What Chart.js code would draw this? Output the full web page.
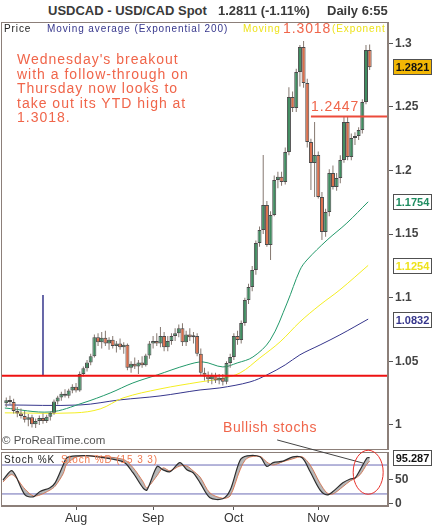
<!DOCTYPE html>
<html>
<head>
<meta charset="utf-8">
<script src="https://cdn.jsdelivr.net/npm/chart.js@4.4.0/dist/chart.umd.min.js"></script>
<style>
  body { margin: 0; width: 434px; height: 530px; background: #fff; position: relative; overflow: hidden;
         font-family: "Liberation Sans", Arial, sans-serif; }
  canvas { position: absolute; left: 0; }
  #priceChart { top: 22px; }
  #stochChart { top: 430px; }
  .txt { position: absolute; white-space: nowrap; z-index: 2; }
  .title { top: 3px; font-size: 13px; font-weight: bold; color: #3a3a3a; }
  .hdr { font-size: 10px; letter-spacing: 0.9px; }
  .note { color: #f0654a; font-size: 14px; letter-spacing: 1px; line-height: 14.5px; }
</style>
</head>
<body>
<canvas id="priceChart" width="434" height="428"></canvas>
<canvas id="stochChart" width="434" height="100"></canvas>

<div class="txt title" style="left:48px">USDCAD - USD/CAD Spot</div>
<div class="txt title" style="left:218px">1.2811 (-1.11%)</div>
<div class="txt title" style="left:327px">Daily 6:55</div>

<div class="txt hdr" style="left:4px;top:23px;color:#222">Price</div>
<div class="txt hdr" style="left:47px;top:23px;color:#36368c">Moving average (Exponential 200)</div>
<div class="txt hdr" style="left:243px;top:23px;color:#eee21a">Moving</div>
<div class="txt hdr" style="left:332px;top:23px;color:#eee21a">(Exponent</div>
<div class="txt note" style="left:283px;top:21px;letter-spacing:0.9px">1.3018</div>

<div class="txt note" style="left:17px;top:52px">Wednesday's breakout<br>with a follow-through on<br>Thursday now looks to<br>take out its YTD high at<br>1.3018.</div>
<div class="txt note" style="left:311px;top:99px;letter-spacing:0.9px">1.2447</div>
<div class="txt note" style="left:223px;top:420px;letter-spacing:0.6px">Bullish stochs</div>
<div class="txt" style="left:2px;top:434px;font-size:11.5px;color:#555">© ProRealTime.com</div>

<div class="txt hdr" style="left:4px;top:454px;color:#222">Stoch %K</div>
<div class="txt hdr" style="left:61px;top:454px;color:#f07a50">Stoch %D (15 3 3)</div>

<script>
// daily candles, 7 Jul .. 21 Nov (index 0..99)
const open = [1.0170, 1.0195, 1.0180, 1.0110, 1.0090, 1.0070, 1.0040, 1.0060, 1.0005, 1.0030,
              1.0055, 1.0030, 1.0065, 1.0095, 1.0185, 1.0215, 1.0245, 1.0230, 1.0270, 1.0300,
              1.0270, 1.0400, 1.0445, 1.0490, 1.0540, 1.0690, 1.0650, 1.0685, 1.0640, 1.0670,
              1.0620, 1.0640, 1.0610, 1.0630, 1.0450, 1.0480, 1.0460, 1.0490, 1.0470, 1.0545,
              1.0640, 1.0660, 1.0640, 1.0700, 1.0610, 1.0660, 1.0700, 1.0720, 1.0760, 1.0650,
              1.0710, 1.0690, 1.0700, 1.0560, 1.0410, 1.0380, 1.0360, 1.0390, 1.0350, 1.0370,
              1.0340, 1.0486, 1.0533, 1.0700, 1.0667, 1.0801, 1.0982, 1.1084, 1.1218, 1.1430,
              1.1532, 1.1729, 1.1415, 1.1651, 1.1925, 1.1950, 1.1910, 1.2145, 1.2578, 1.2491,
              1.2774, 1.2970, 1.2688, 1.2224, 1.2059, 1.2122, 1.1792, 1.1517, 1.1674, 1.1980,
              1.1870, 1.1940, 1.2083, 1.2381, 1.2106, 1.2255, 1.2270, 1.2318, 1.2539, 1.2947];
const high = [1.0215, 1.0230, 1.0205, 1.0140, 1.0130, 1.0110, 1.0085, 1.0080, 1.0050, 1.0075,
              1.0090, 1.0080, 1.0105, 1.0200, 1.0230, 1.0260, 1.0280, 1.0285, 1.0320, 1.0330,
              1.0420, 1.0460, 1.0510, 1.0560, 1.0710, 1.0720, 1.0730, 1.0740, 1.0690, 1.0700,
              1.0660, 1.0680, 1.0650, 1.0640, 1.0500, 1.0530, 1.0510, 1.0540, 1.0560, 1.0660,
              1.0700, 1.0720, 1.0770, 1.0730, 1.0700, 1.0720, 1.0760, 1.0790, 1.0800, 1.0740,
              1.0760, 1.0730, 1.0720, 1.0600, 1.0450, 1.0420, 1.0410, 1.0410, 1.0400, 1.0400,
              1.0500, 1.0560, 1.0720, 1.0740, 1.0820, 1.1000, 1.1110, 1.1250, 1.1450, 1.1560,
              1.2122, 1.1760, 1.1680, 1.1960, 1.1990, 1.1990, 1.2180, 1.2655, 1.2620, 1.2800,
              1.2987, 1.3018, 1.2720, 1.2250, 1.2381, 1.2150, 1.1830, 1.1700, 1.2010, 1.2040,
              1.1980, 1.2120, 1.2420, 1.2420, 1.2290, 1.2300, 1.2340, 1.2560, 1.2987, 1.2990];
const low  = [1.0140, 1.0160, 1.0090, 1.0060, 1.0050, 1.0020, 0.9990, 0.9980, 0.9975, 1.0000,
              1.0010, 1.0015, 1.0035, 1.0080, 1.0160, 1.0190, 1.0215, 1.0210, 1.0250, 1.0255,
              1.0260, 1.0380, 1.0420, 1.0470, 1.0530, 1.0620, 1.0600, 1.0620, 1.0590, 1.0600,
              1.0570, 1.0590, 1.0560, 1.0430, 1.0410, 1.0440, 1.0400, 1.0450, 1.0460, 1.0520,
              1.0600, 1.0620, 1.0610, 1.0580, 1.0580, 1.0630, 1.0660, 1.0690, 1.0620, 1.0620,
              1.0660, 1.0640, 1.0540, 1.0390, 1.0350, 1.0330, 1.0320, 1.0330, 1.0320, 1.0310,
              1.0320, 1.0450, 1.0510, 1.0630, 1.0640, 1.0780, 1.0950, 1.1050, 1.1180, 1.1400,
              1.1500, 1.1400, 1.1296, 1.1640, 1.1860, 1.1880, 1.1890, 1.2120, 1.2460, 1.2460,
              1.2660, 1.2650, 1.2180, 1.1847, 1.1792, 1.1780, 1.1454, 1.1480, 1.1640, 1.1850,
              1.1840, 1.1900, 1.2060, 1.2080, 1.2080, 1.2200, 1.2240, 1.2290, 1.2520, 1.2790];
const close = [1.0195, 1.0180, 1.0110, 1.0090, 1.0070, 1.0040, 1.0060, 1.0005, 1.0030, 1.0055,
               1.0030, 1.0065, 1.0095, 1.0185, 1.0215, 1.0245, 1.0230, 1.0270, 1.0300, 1.0270,
               1.0400, 1.0445, 1.0490, 1.0540, 1.0690, 1.0650, 1.0685, 1.0640, 1.0670, 1.0620,
               1.0640, 1.0610, 1.0630, 1.0450, 1.0480, 1.0460, 1.0490, 1.0470, 1.0545, 1.0640,
               1.0660, 1.0640, 1.0700, 1.0610, 1.0660, 1.0700, 1.0720, 1.0760, 1.0650, 1.0710,
               1.0690, 1.0700, 1.0560, 1.0410, 1.0380, 1.0360, 1.0390, 1.0350, 1.0370, 1.0340,
               1.0486, 1.0533, 1.0700, 1.0667, 1.0801, 1.0982, 1.1084, 1.1218, 1.1430, 1.1532,
               1.1729, 1.1415, 1.1651, 1.1925, 1.1950, 1.1910, 1.2145, 1.2578, 1.2491, 1.2774,
               1.2970, 1.2688, 1.2224, 1.2059, 1.2122, 1.1792, 1.1517, 1.1674, 1.1980, 1.1870,
               1.1940, 1.2083, 1.2381, 1.2106, 1.2255, 1.2270, 1.2318, 1.2539, 1.2947, 1.2811];

// moving averages, read at a few candle positions
const ema20Idx = [-0.4, 11.9, 20.9, 28.3, 34.5, 41.1, 49.2, 53.6, 59.0, 62.9, 67.2, 71.9, 76.5, 80.0, 81.9, 87.4, 92.8, 98.6];
const ema20    = [1.0133, 1.0102, 1.0173, 1.0251, 1.0330, 1.0393, 1.0471, 1.0495, 1.0456, 1.0487, 1.0534, 1.0667, 1.0958, 1.1217, 1.1296, 1.1453, 1.1587, 1.1754];
const ema50Idx = [-0.4, 18.7, 25.6, 31.8, 41.9, 52.8, 58.2, 63.7, 69.1, 74.6, 80.0, 85.5, 90.9, 98.6];
const ema50    = [1.0095, 1.0095, 1.0126, 1.0212, 1.0283, 1.0338, 1.0362, 1.0409, 1.0527, 1.0653, 1.0810, 1.0944, 1.1062, 1.1254];
const ema200Idx = [-0.4, 20.1, 31.0, 41.9, 52.8, 58.2, 66.4, 71.0, 76.0, 80.0, 85.5, 90.9, 98.6];
const ema200    = [1.0157, 1.0157, 1.0197, 1.0228, 1.0275, 1.0291, 1.0338, 1.0393, 1.0472, 1.0551, 1.0629, 1.0708, 1.0832];

const supportLevel = 1.0386;
const breakoutLevel = 1.2425;
const markerIdx = 10;
const markerTop = 1.1021;
const lastValues = [1.2821, 1.1754, 1.1254, 1.0832];

// stochastic (15 3 3)
const stochX = [-0.9, 1.6, 5.1, 7.3, 9.2, 11.9, 13.3, 15.5, 16.5, 19.3, 22.8, 31.8, 34.5, 37.3, 38.3, 41.1,
                42.7, 44.6, 47.3, 49.2, 50.9, 52.8, 55.5, 59.0, 61.0, 63.7, 65.6, 69.1, 71.0, 72.7, 75.4,
                78.1, 80.6, 82.8, 85.5, 87.4, 89.0, 91.7, 93.7, 95.0, 96.4, 98.3, 99.0];
const stochK = [49, 68, 18, 14, 25, 33, 43, 80, 95, 99, 99, 87, 64, 32, 28, 77,
                70, 66, 85, 70, 64, 43, 12, 10, 28, 90, 99, 97, 77, 85, 88,
                97, 95, 66, 28, 18, 25, 43, 51, 53, 70, 95, 95.287];
const stochD = [45, 60, 30, 16, 18, 28, 36, 62, 82, 97, 99, 92, 75, 45, 33, 58,
                74, 68, 78, 78, 68, 55, 22, 11, 16, 70, 94, 98, 86, 80, 87,
                93, 97, 80, 42, 22, 20, 35, 47, 52, 60, 82, 88];
const stochLevels = [80, 20];

const monthIdx = [19, 40, 62, 85];
const monthLabels = ['Aug', 'Sep', 'Oct', 'Nov'];
const priceTicks = [1, 1.05, 1.1, 1.15, 1.2, 1.25, 1.3];
const priceTickLabels = ['1', '1.05', '1.1', '1.15', '1.2', '1.25', '1.3'];
const stochTicks = [0, 50];
const stochTickLabels = ['0', '50'];

const xMin = -1.44, xMax = 104;
const frameColor = '#8c7f79';
const axisFont = { family: '"Liberation Sans", Arial', size: 12, weight: 'bold' };

const idx = close.map((_, i) => i);
const pts = (xs, ys) => xs.map((x, i) => ({ x: x, y: ys[i] }));

// keep the plot area exactly where the panel frame is
function fitAxis(size) {
    return s => {
        if (s.isHorizontal()) s.height = size; else s.width = size;
        s.paddingTop = 0; s.paddingBottom = 0; s.paddingLeft = 0; s.paddingRight = 0;
    };
}

function valueBox(ctx, area, yPix, text, bg, fg) {
    const x = area.right + 5, w = 39, h = 15;
    const top = Math.round(yPix - h / 2) + 0.5;
    ctx.fillStyle = bg;
    ctx.fillRect(x, top, w, h);
    ctx.strokeStyle = '#505050';
    ctx.lineWidth = 1;
    ctx.strokeRect(x + 0.5, top, w - 1, h);
    ctx.fillStyle = fg;
    ctx.font = 'bold 11px "Liberation Sans", Arial';
    ctx.textAlign = 'center';
    ctx.textBaseline = 'middle';
    ctx.fillText(text, x + w / 2, top + h / 2 + 0.5);
}

const priceDecor = {
    id: 'priceDecor',
    afterDraw(chart) {
        const { ctx, chartArea: a, scales } = chart;
        ctx.save();
        ctx.strokeStyle = frameColor;
        ctx.lineWidth = 1;
        ctx.strokeRect(a.left + 0.5, a.top + 0.5, a.right - a.left - 1, a.bottom - a.top - 1);
        const y = scales.y;
        valueBox(ctx, a, y.getPixelForValue(lastValues[0]), lastValues[0].toFixed(4), '#f2b705', '#111');
        valueBox(ctx, a, y.getPixelForValue(lastValues[1]), lastValues[1].toFixed(4), '#fff', '#1e8c60');
        valueBox(ctx, a, y.getPixelForValue(lastValues[2]), lastValues[2].toFixed(4), '#fff', '#eee21a');
        valueBox(ctx, a, y.getPixelForValue(lastValues[3]), lastValues[3].toFixed(4), '#fff', '#36368c');
        ctx.restore();
    }
};

new Chart(document.getElementById('priceChart'), {
    type: 'bar',
    data: {
        datasets: [
            { type: 'line', data: pts([xMin, xMax], [supportLevel, supportLevel]), borderColor: '#ee1111', borderWidth: 2, pointRadius: 0 },
            { type: 'line', data: pts([83, xMax], [breakoutLevel, breakoutLevel]), borderColor: '#ec4b3b', borderWidth: 2, pointRadius: 0 },
            { type: 'line', data: pts([markerIdx, markerIdx], [supportLevel, markerTop]), borderColor: '#36368c', borderWidth: 1.5, pointRadius: 0 },
            {
                data: idx.map(i => ({ x: i, y: [Math.min(open[i], close[i]), Math.max(open[i], close[i])] })),
                backgroundColor: idx.map(i => close[i] >= open[i] ? '#3f8c60' : '#dc6e4b'),
                borderColor: '#4a4a4a', borderWidth: 1, borderSkipped: false,
                barThickness: 4, grouped: false, minBarLength: 2, inflateAmount: 0
            },
            {
                data: idx.map(i => ({ x: i, y: [low[i], high[i]] })),
                backgroundColor: '#857870', barThickness: 1, grouped: false, inflateAmount: 0
            },
            { type: 'line', data: pts(ema20Idx, ema20), borderColor: '#22996a', borderWidth: 1, pointRadius: 0, tension: 0.35 },
            { type: 'line', data: pts(ema50Idx, ema50), borderColor: '#f4ee22', borderWidth: 1, pointRadius: 0, tension: 0.35 },
            { type: 'line', data: pts(ema200Idx, ema200), borderColor: '#36368c', borderWidth: 1, pointRadius: 0, tension: 0.35 }
        ]
    },
    options: {
        responsive: false,
        animation: false,
        layout: { padding: { left: 1, top: 0, right: 0, bottom: 0 } },
        plugins: { legend: { display: false }, tooltip: { enabled: false } },
        scales: {
            x: { type: 'linear', min: xMin, max: xMax, display: false, offset: false },
            y: {
                position: 'right', min: 0.9803, max: 1.3167,
                afterBuildTicks: s => { s.ticks = priceTicks.map(v => ({ value: v })); },
                afterFit: fitAxis(46),
                ticks: { callback: (v, i) => priceTickLabels[i], font: axisFont, color: '#444', padding: 2 },
                grid: { drawOnChartArea: false, tickLength: 5, tickColor: '#555' },
                border: { color: frameColor }
            }
        }
    },
    plugins: [priceDecor]
});

const stochDecor = {
    id: 'stochDecor',
    afterDraw(chart) {
        const { ctx, chartArea: a, scales } = chart;
        const x = scales.x, y = scales.y;
        ctx.save();
        ctx.strokeStyle = frameColor;
        ctx.lineWidth = 1;
        ctx.strokeRect(a.left + 0.5, a.top + 0.5, a.right - a.left - 1, a.bottom - a.top - 1);
        valueBox(ctx, a, y.getPixelForValue(stochK[stochK.length - 1]), '95.287', '#fff', '#111');
        // pointer from the note to the circled stochs
        ctx.strokeStyle = '#444';
        ctx.beginPath();
        ctx.moveTo(x.getPixelForValue(73.8), y.getPixelForValue(132));
        ctx.lineTo(x.getPixelForValue(97.2), y.getPixelForValue(84));
        ctx.stroke();
        ctx.strokeStyle = '#e8302a';
        ctx.beginPath();
        ctx.ellipse(x.getPixelForValue(98.6), y.getPixelForValue(65), 15, 22, 0, 0, Math.PI * 2);
        ctx.stroke();
        ctx.restore();
    }
};

new Chart(document.getElementById('stochChart'), {
    type: 'line',
    data: {
        datasets: [
            { data: pts(stochX, stochK), borderColor: '#2e2e2e', borderWidth: 1.2, pointRadius: 0, tension: 0.3,
              fill: '+1', backgroundColor: 'rgba(125,125,125,0.55)' },
            { data: pts(stochX, stochD), borderColor: '#f07a50', borderWidth: 1, pointRadius: 0, tension: 0.3 },
            { data: pts([xMin, xMax], [stochLevels[0], stochLevels[0]]), borderColor: '#6b6bb5', borderWidth: 1, pointRadius: 0 },
            { data: pts([xMin, xMax], [stochLevels[1], stochLevels[1]]), borderColor: '#6b6bb5', borderWidth: 1, pointRadius: 0 }
        ]
    },
    options: {
        responsive: false,
        animation: false,
        layout: { padding: { left: 1, top: 22, right: 0, bottom: 0 } },
        plugins: { legend: { display: false }, tooltip: { enabled: false } },
        scales: {
            x: {
                type: 'linear', min: xMin, max: xMax,
                afterBuildTicks: s => { s.ticks = monthIdx.map(v => ({ value: v })); },
                afterFit: fitAxis(24),
                ticks: { callback: (v, i) => monthLabels[i], autoSkip: false, maxRotation: 0, padding: 1,
                         font: { family: '"Liberation Sans", Arial', size: 12.5 }, color: '#333' },
                grid: { drawOnChartArea: false, tickLength: 4, tickColor: '#555' },
                border: { color: frameColor }
            },
            y: {
                position: 'right', min: -5, max: 107,
                afterBuildTicks: s => { s.ticks = stochTicks.map(v => ({ value: v })); },
                afterFit: fitAxis(46),
                ticks: { callback: (v, i) => stochTickLabels[i], font: axisFont, color: '#444', padding: 2 },
                grid: { drawOnChartArea: false, tickLength: 5, tickColor: '#555' },
                border: { color: frameColor }
            }
        }
    },
    plugins: [stochDecor]
});
</script>
</body>
</html>
